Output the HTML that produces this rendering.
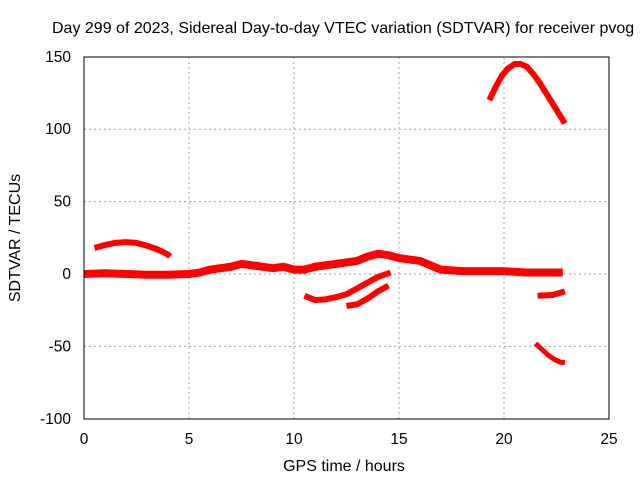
<!DOCTYPE html>
<html><head><meta charset="utf-8"><style>
body{margin:0;background:#fff;}
svg text{font-family:"Liberation Sans",sans-serif;fill:#000;}
</style></head><body>
<svg id="chart" width="640" height="480" xmlns="http://www.w3.org/2000/svg">
<text x="52" y="33" font-size="16">Day 299 of 2023, Sidereal Day-to-day VTEC variation (SDTVAR) for receiver pvog</text>
<g id="grid"></g>
<g id="series"></g>
<rect x="84" y="57" width="525" height="362" fill="none" stroke="#000" stroke-width="1"/>
<g id="ticks"></g>
<text x="344" y="471" text-anchor="middle" font-size="16">GPS time / hours</text>
<text transform="translate(20,238) rotate(-90)" text-anchor="middle" font-size="16">SDTVAR / TECUs</text>
</svg>
<script>
const xTicks=[0,5,10,15,20,25];
const yTicks=[-100,-50,0,50,100,150];
const mainX=[0,1,2,3,4,5,5.5,6,7,7.5,8,9,9.5,10,10.5,11,12,13,13.5,14,14.5,15,16,16.5,17,18,19,20,21,22,22.8];
const mainY=[0,0.5,0,-0.5,-0.5,0,1,3,5,7,6,4,5,3,3,5,7,9,12,14,13,11,9,6,3,2,2,2,1,1,1];
const arcAX=[0.5,1,1.5,2,2.5,3,3.5,4,4.1];
const arcAY=[18,20,21.5,22,21.5,19.5,17,13.5,12];
const lowAX=[10.5,11,11.5,12,12.5,13,13.5,14,14.6];
const lowAY=[-15,-18,-17.5,-16,-14,-10,-6,-2,1];
const lowBX=[12.5,13,13.5,14,14.5];
const lowBY=[-22,-21,-17,-12,-8];
const bigX=[19.3,19.6,19.9,20.2,20.5,20.8,21.1,21.4,21.7,22,22.3,22.6,22.9];
const bigY=[120,129,137,142,145,145,143,138,132,125,118,111,104];
const lateAX=[21.6,22.3,22.9];
const lateAY=[-15,-14.5,-12];
const lateBX=[21.5,21.8,22.1,22.4,22.7,22.9];
const lateBY=[-48,-52,-56,-59,-61,-61];
const NS="http://www.w3.org/2000/svg";
function sx(v){return 84+v*21;}
function sy(v){return 274-v*1.448;}
const grid=document.getElementById('grid'),ticks=document.getElementById('ticks'),ser=document.getElementById('series');
function mk(t,a,p){const e=document.createElementNS(NS,t);for(const k in a)e.setAttribute(k,a[k]);p.appendChild(e);return e;}
xTicks.forEach(v=>{
 if(v>0&&v<25){const g=mk('line',{x1:sx(v),x2:sx(v),y1:57,y2:419,stroke:'#a0a0a0','stroke-dasharray':'2,3'},grid);
 
 }
 const t=mk('text',{x:sx(v),y:444,'text-anchor':'middle','font-size':'15.5'},ticks);t.textContent=v;
 
 
});
yTicks.forEach(v=>{
 if(v>-100&&v<150){const g=mk('line',{x1:84,x2:609,y1:sy(v),y2:sy(v),stroke:'#a0a0a0','stroke-dasharray':'2,3'},grid);
 
 }
 const t=mk('text',{x:71,y:sy(v)+5,'text-anchor':'end','font-size':'15.5'},ticks);t.textContent=v;
 
 
});
function line(xs,ys,w,name){
 const p=mk('polyline',{points:xs.map((x,i)=>sx(x)+','+sy(ys[i])).join(' '),fill:'none',stroke:'#ff0000','stroke-width':w,'stroke-linejoin':'round'},ser);
 
 
}
line(mainX,mainY,8,'series-main');
line(arcAX,arcAY,6,'series-arc-a');
line(lowAX,lowAY,6,'series-low-a');
line(lowBX,lowBY,6,'series-low-b');
line(bigX,bigY,6,'series-big-arc');
line(lateAX,lateAY,6,'series-late-a');
line(lateBX,lateBY,5,'series-late-b');
</script>
</body></html>
